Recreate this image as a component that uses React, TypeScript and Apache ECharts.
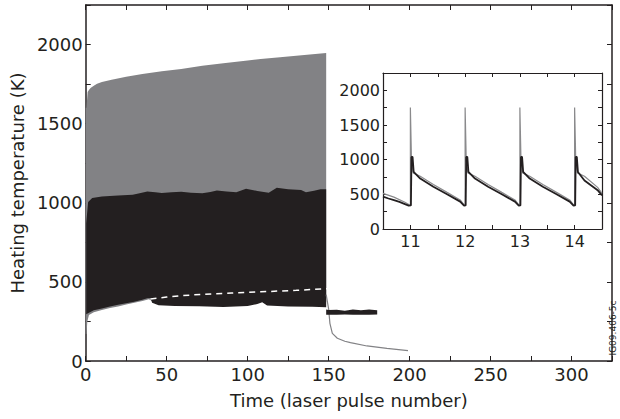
import React, { useEffect, useRef } from "react";
import * as echarts from "echarts";

// ---------- Main panel: envelopes ----------
const grayTopPulse = [0, 0.5, 1.2, 2, 3, 5, 7, 10, 16, 25, 35, 47, 59, 72, 85, 100, 108, 120, 135, 148.5];
const grayTopTemp = [1600, 1600, 1700, 1712, 1726, 1740, 1753, 1763, 1778, 1797, 1814, 1831, 1846, 1866, 1882, 1899, 1909, 1920, 1934, 1947];
const grayBotPulse = [0, 0.5, 1, 2, 5, 10, 15, 20, 25, 30, 35, 39, 41, 60, 100, 148.5];
const grayBotTemp = [170, 170, 250, 290, 308, 322, 335, 345, 357, 368, 380, 390, 380, 375, 375, 375];

const blackTopPulse = [0.3, 1.5, 4, 10, 20, 29, 34, 38, 43, 47, 53, 59, 65, 72, 77, 81, 87, 93, 99, 106, 113, 118, 125, 133, 136, 141, 145, 148.5];
const blackTopTemp = [870, 1005, 1030, 1040, 1046, 1051, 1062, 1072, 1066, 1062, 1066, 1070, 1064, 1061, 1068, 1078, 1072, 1066, 1088, 1075, 1064, 1095, 1085, 1080, 1066, 1076, 1085, 1085];
const blackBotPulse = [0.3, 2, 5, 10, 15, 20, 25, 30, 35, 38, 40, 41, 45, 55, 70, 85, 100, 106, 109, 112, 125, 140, 148.5];
const blackBotTemp = [295, 305, 320, 332, 345, 355, 365, 375, 387, 396, 398, 368, 352, 348, 346, 342, 348, 360, 372, 350, 345, 343, 340];

const tailPulse = [148.5, 150, 155, 160, 165, 170, 175, 180];
const tailTop = [325, 322, 324, 318, 325, 320, 326, 320];
const tailBot = [292, 293, 292, 294, 293, 292, 293, 294];

const decayPulse = [148.5, 150, 150.8, 152.3, 155.4, 160, 163.5, 173.7, 186, 199];
const decayTemp = [420, 330, 238, 175, 144, 125, 116, 95, 80, 65];

const dashPulse = [40, 50, 60, 72, 90, 108, 130, 150];
const dashTemp = [392, 404, 414, 421, 430, 437, 447, 457];

// ---------- Inset: pulses 10.5 - 14.5 ----------
const insetGrayPulse = [10.5, 10.7, 10.9, 10.98, 11.0, 11.0, 11.02, 11.05, 11.18, 11.42, 11.67, 11.91, 11.98, 12.0, 12.0, 12.02, 12.05, 12.18, 12.42, 12.67, 12.91, 12.98, 13.0, 13.0, 13.02, 13.05, 13.18, 13.42, 13.67, 13.91, 13.98, 14.0, 14.0, 14.02, 14.05, 14.18, 14.42, 14.5];
const insetGrayTemp = [514, 460, 385, 350, 345, 1752, 1000, 810, 761, 643, 528, 419, 347, 345, 1752, 1000, 810, 761, 643, 528, 419, 347, 345, 1752, 1000, 810, 761, 643, 528, 419, 347, 345, 1752, 1000, 810, 761, 600, 515];
const insetBlackPulse = [10.5, 10.6, 10.7, 10.8, 10.9, 10.97, 11.01, 11.02, 11.04, 11.06, 11.18, 11.42, 11.67, 11.91, 11.98, 12.01, 12.02, 12.04, 12.06, 12.18, 12.42, 12.67, 12.91, 12.98, 13.01, 13.02, 13.04, 13.06, 13.18, 13.42, 13.67, 13.91, 13.98, 14.01, 14.02, 14.04, 14.06, 14.18, 14.42, 14.5];
const insetBlackTemp = [466, 440, 415, 390, 360, 338, 340, 1040, 1040, 823, 728, 609, 500, 395, 338, 340, 1040, 1040, 823, 728, 609, 500, 395, 338, 340, 1040, 1040, 823, 728, 609, 500, 395, 338, 340, 1040, 1040, 823, 700, 560, 485];

const FONT = "DejaVu Sans";
const INK = "#231f20";
const GRAY = "#828285";

const pairs = (xs: number[], ys: number[]) => xs.map((x, i) => [x, ys[i]]);

const bandSeries = (
  xTop: number[], yTop: number[], xBot: number[], yBot: number[], fill: string, z: number
) => ({
  type: "custom",
  xAxisIndex: 0,
  yAxisIndex: 0,
  silent: true,
  z,
  data: [[0, 0]],
  renderItem: (_params: any, api: any) => {
    const pts: number[][] = [];
    xTop.forEach((x, i) => pts.push(api.coord([x, yTop[i]])));
    for (let i = xBot.length - 1; i >= 0; i--) pts.push(api.coord([xBot[i], yBot[i]]));
    return { type: "polygon", shape: { points: pts }, style: { fill } };
  },
});

const axisCommon = (lineW: number, tickLen: number) => ({
  axisLine: { show: true, onZero: false, lineStyle: { color: INK, width: lineW } },
  axisTick: { show: true, inside: true, length: tickLen, lineStyle: { color: INK, width: 1 } },
  splitLine: { show: false },
});

export default function App() {
  const ref = useRef<HTMLDivElement>(null);
  useEffect(() => {
    if (!ref.current) return;
    const chart = echarts.init(ref.current, undefined, { renderer: "svg" });
    const labelMain = { color: INK, fontFamily: FONT, fontSize: 18 };
    const labelInset = { color: INK, fontFamily: FONT, fontSize: 16 };
    chart.setOption({
      animation: false,
      backgroundColor: "#ffffff",
      grid: [
        { left: 83, right: 8, top: 5, bottom: 58 },
        { left: 383, top: 73, width: 219, height: 156, show: true, backgroundColor: "#ffffff", borderWidth: 0 },
      ],
      xAxis: [
        {
          gridIndex: 0, type: "value", position: "bottom", min: 0, max: 325, interval: 25,
          ...axisCommon(1.5, 5),
          axisLabel: { ...labelMain, margin: 4, formatter: (v: number) => (v % 50 === 0 && v <= 300 ? String(v) : "") },
          name: "Time (laser pulse number)", nameLocation: "middle", nameGap: 30,
          nameTextStyle: { color: INK, fontFamily: FONT, fontSize: 18 },
        },
        {
          gridIndex: 0, type: "value", position: "top", min: 0, max: 325, interval: 25,
          ...axisCommon(1.5, 5), axisLabel: { show: false },
        },
        {
          gridIndex: 1, type: "value", position: "bottom", min: 10.5, max: 14.5, interval: 0.5,
          ...axisCommon(1.2, 4),
          axisLabel: { ...labelInset, margin: 4, formatter: (v: number) => (Math.abs(v - Math.round(v)) < 1e-6 ? String(Math.round(v)) : "") },
        },
        {
          gridIndex: 1, type: "value", position: "top", min: 10.5, max: 14.5, interval: 0.5,
          ...axisCommon(1.2, 4), axisLabel: { show: false },
        },
      ],
      yAxis: [
        {
          gridIndex: 0, type: "value", position: "left", min: 0, max: 2250, interval: 250,
          ...axisCommon(1.5, 5),
          axisLabel: { ...labelMain, margin: 3, formatter: (v: number) => (v % 500 === 0 && v <= 2000 ? String(v) : "") },
          name: "Heating temperature (K)", nameLocation: "middle", nameGap: 51,
          nameTextStyle: { color: INK, fontFamily: FONT, fontSize: 18 },
        },
        {
          gridIndex: 0, type: "value", position: "right", min: 0, max: 2250, interval: 250,
          ...axisCommon(1.5, 5), axisLabel: { show: false },
        },
        {
          gridIndex: 1, type: "value", position: "left", min: 0, max: 2250, interval: 250,
          ...axisCommon(1.2, 4),
          axisLabel: { ...labelInset, margin: 3, formatter: (v: number) => (v % 500 === 0 && v <= 2000 ? String(v) : "") },
        },
        {
          gridIndex: 1, type: "value", position: "right", min: 0, max: 2250, interval: 250,
          ...axisCommon(1.2, 4), axisLabel: { show: false },
        },
      ],
      series: [
        bandSeries(grayTopPulse, grayTopTemp, grayBotPulse, grayBotTemp, GRAY, 2),
        bandSeries(blackTopPulse, blackTopTemp, blackBotPulse, blackBotTemp, INK, 3),
        {
          type: "line", xAxisIndex: 0, yAxisIndex: 0, z: 3, symbol: "none", silent: true,
          data: pairs(decayPulse, decayTemp), lineStyle: { color: GRAY, width: 1.2 },
        },
        bandSeries(tailPulse, tailTop, tailPulse, tailBot, INK, 4),
        {
          type: "line", xAxisIndex: 0, yAxisIndex: 0, z: 5, symbol: "none", silent: true,
          data: pairs(dashPulse, dashTemp),
          lineStyle: { color: "#ffffff", width: 1.5, type: [6, 5] },
        },
        {
          type: "line", xAxisIndex: 2, yAxisIndex: 2, z: 5, symbol: "none", silent: true,
          data: pairs(insetGrayPulse, insetGrayTemp), lineStyle: { color: "#8a8a8c", width: 1.2 },
        },
        {
          type: "line", xAxisIndex: 2, yAxisIndex: 2, z: 6, symbol: "none", silent: true,
          data: pairs(insetBlackPulse, insetBlackTemp), lineStyle: { color: INK, width: 1.8 },
        },
      ],
      graphic: [
        {
          type: "text", x: 613, y: 328, rotation: Math.PI / 2,
          style: { text: "IG09.406-5c", fontFamily: FONT, fontSize: 9, fill: INK, align: "center", verticalAlign: "middle" },
        },
      ],
    });
    return () => chart.dispose();
  }, []);
  return <div ref={ref} style={{ width: 620, height: 419, position: "absolute", left: 0, top: 0 }} />;
}
